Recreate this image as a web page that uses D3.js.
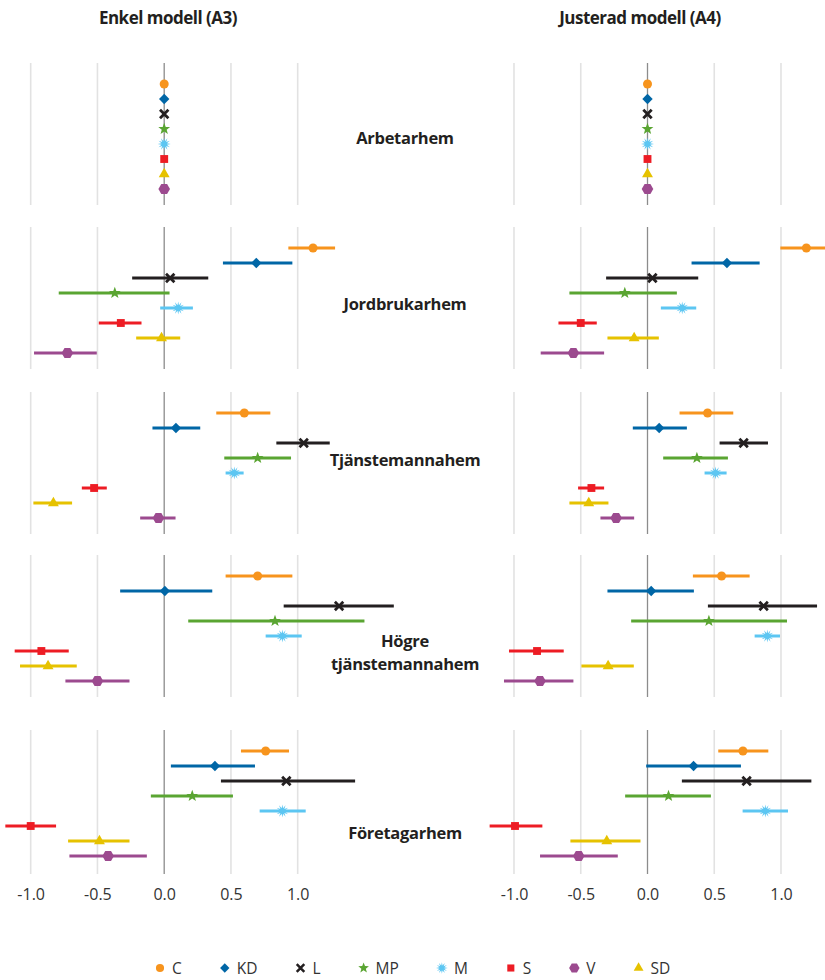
<!DOCTYPE html>
<html><head><meta charset="utf-8">
<script src="https://cdn.jsdelivr.net/npm/d3@7"></script>
<style>
html,body{margin:0;padding:0;background:#fff;}
svg{display:block;font-family:"Open Sans","Noto Sans",sans-serif;}
</style></head>
<body><svg id="chart" width="825" height="980"></svg>
<script>
// ---------- data ----------
const categories = ["Arbetarhem","Jordbrukarhem","Tjänstemannahem","Högre tjänstemannahem","Företagarhem"];
const categoryLines = [["Arbetarhem"],["Jordbrukarhem"],["Tjänstemannahem"],["Högre","tjänstemannahem"],["Företagarhem"]];
const parties = ["C","KD","L","MP","M","S","SD","V"];
const legendOrder = ["C","KD","L","MP","M","S","V","SD"];
const models = ["Enkel modell (A3)","Justerad modell (A4)"];
const tickValues = [-1.0,-0.5,0.0,0.5,1.0];
const partyColors = ["#F7941D","#0066A6","#231F20","#5AA532","#5CC6F2","#ED1C24","#E6C200","#9C4A8F"];

// estimates per category (rows) in party order C,KD,L,MP,M,S,SD,V
const a3Est = [
  [0,0,0,0,0,0,0,0],
  [1.115,0.69,0.045,-0.37,0.105,-0.325,-0.02,-0.725],
  [0.60,0.088,1.045,0.70,0.525,-0.525,-0.83,-0.043],
  [0.70,0.005,1.31,0.83,0.885,-0.92,-0.87,-0.50],
  [0.76,0.38,0.915,0.21,0.885,-1.0,-0.485,-0.42]
];
const a3Lo = [
  [0,0,0,0,0,0,0,0],
  [0.93,0.44,-0.24,-0.79,-0.03,-0.49,-0.21,-0.975],
  [0.39,-0.088,0.84,0.45,0.46,-0.617,-0.98,-0.18],
  [0.46,-0.33,0.895,0.18,0.76,-1.12,-1.08,-0.74],
  [0.575,0.05,0.425,-0.10,0.715,-1.19,-0.72,-0.71]
];
const a3Hi = [
  [0,0,0,0,0,0,0,0],
  [1.28,0.96,0.33,0.04,0.215,-0.17,0.12,-0.505],
  [0.795,0.27,1.24,0.95,0.595,-0.43,-0.69,0.085],
  [0.96,0.36,1.72,1.50,1.03,-0.715,-0.655,-0.26],
  [0.935,0.68,1.43,0.515,1.06,-0.81,-0.26,-0.13]
];
const a4Est = [
  [0,0,0,0,0,0,0,0],
  [1.19,0.595,0.037,-0.17,0.26,-0.50,-0.10,-0.555],
  [0.45,0.0875,0.72,0.37,0.51,-0.42,-0.44,-0.235],
  [0.555,0.0275,0.87,0.46,0.8975,-0.8275,-0.295,-0.805],
  [0.715,0.345,0.7425,0.1575,0.8825,-0.9925,-0.305,-0.515]
];
const a4Lo = [
  [0,0,0,0,0,0,0,0],
  [0.995,0.33,-0.31,-0.585,0.10,-0.667,-0.30,-0.80],
  [0.24,-0.11,0.54,0.1175,0.4275,-0.52,-0.585,-0.3525],
  [0.34,-0.30,0.4525,-0.1225,0.8025,-1.0375,-0.495,-1.075],
  [0.53,-0.01,0.2575,-0.1675,0.7125,-1.1825,-0.5775,-0.805]
];
const a4Hi = [
  [0,0,0,0,0,0,0,0],
  [1.39,0.84,0.38,0.22,0.365,-0.38,0.085,-0.325],
  [0.6425,0.295,0.9025,0.6025,0.5925,-0.325,-0.2925,-0.10],
  [0.765,0.3475,1.27,1.045,0.9925,-0.6275,-0.1025,-0.555],
  [0.905,0.70,1.2275,0.475,1.0525,-0.7875,-0.0525,-0.2225]
];

// ---------- layout ----------
const svg = d3.select("#chart");
const panelTop = [84, 248, 413, 576, 751];
const rowSpan = 105;
const labelY = [138, 304, 460, 641, 833];
const xRanges = [[30.7, 297.7],[514, 781]];
const titleX = [168, 640];
const axisY = 876;

const color = d3.scaleOrdinal().domain(parties).range(partyColors);
const xScales = xRanges.map(r => d3.scaleLinear().domain([-1,1]).range(r));
const yScales = panelTop.map(t => d3.scalePoint().domain(parties).range([t, t + rowSpan]));

function polyPath(n, rOuter, rInner, rot) {
  const pts = [];
  const m = rInner == null ? n : n * 2;
  for (let i = 0; i < m; i++) {
    const r = rInner == null ? rOuter : (i % 2 === 0 ? rOuter : rInner);
    const a = rot + i * 2 * Math.PI / m;
    pts.push([r * Math.sin(a), -r * Math.cos(a)]);
  }
  return "M" + pts.map(p => p[0].toFixed(2) + "," + p[1].toFixed(2)).join("L") + "Z";
}
function symbolPath(p, s) {
  s = s || 1;
  switch (p) {
    case "C": return d3.symbol(d3.symbolCircle, 64 * s * s)();
    case "KD": return polyPath(4, 5.2 * s, null, 0);
    case "MP": return polyPath(5, 6.2 * s, 2.6 * s, 0);
    case "M": return polyPath(12, 6.5 * s, 2.8 * s, 0);
    case "S": return d3.symbol(d3.symbolSquare, 62 * s * s)();
    case "SD": return polyPath(3, 6.3 * s, null, 0);
    case "V": return polyPath(6, 5.8 * s, null, Math.PI / 6);
  }
  return null;
}
function drawMarker(g, p, x, y, s) {
  s = s || 1;
  if (p === "L") {
    const r = 4.2 * s;
    g.append("path")
      .attr("d", `M${x - r},${y - r}L${x + r},${y + r}M${x - r},${y + r}L${x + r},${y - r}`)
      .attr("stroke", color(p)).attr("stroke-width", 2.8 * s).attr("fill", "none");
  } else {
    g.append("path").attr("d", symbolPath(p, s))
      .attr("transform", `translate(${x},${y})`)
      .attr("fill", color(p));
  }
}

const modelData = [[a3Est, a3Lo, a3Hi], [a4Est, a4Lo, a4Hi]];

// titles
models.forEach((m, i) => {
  svg.append("text").attr("x", titleX[i]).attr("y", 24)
    .attr("text-anchor", "middle").attr("font-size", 17).attr("font-weight", 700)
    .attr("fill", "#231F20").attr("letter-spacing", -0.5).text(m);
});

// gridlines per panel
models.forEach((m, mi) => {
  const x = xScales[mi];
  const g = svg.append("g");
  categories.forEach((c, ci) => {
    const y = yScales[ci];
    const y0 = y(parties[0]) - 21, y1 = y(parties[parties.length - 1]) + (ci === categories.length - 1 ? 18 : 16);
    tickValues.forEach(t => {
      g.append("line").attr("x1", x(t)).attr("x2", x(t)).attr("y1", y0).attr("y2", y1)
        .attr("stroke", t === 0 ? "#8c8c8c" : "#e2e2e2").attr("stroke-width", t === 0 ? 1.3 : 1.6);
    });
  });
});

// CI lines & markers
models.forEach((m, mi) => {
  const x = xScales[mi];
  const [est, lo, hi] = modelData[mi];
  const g = svg.append("g");
  categories.forEach((c, ci) => {
    const y = yScales[ci];
    parties.forEach((p, pi) => {
      if (hi[ci][pi] !== lo[ci][pi]) {
        g.append("line").attr("x1", x(lo[ci][pi])).attr("x2", x(hi[ci][pi]))
          .attr("y1", y(p)).attr("y2", y(p))
          .attr("stroke", color(p)).attr("stroke-width", 3);
      }
      drawMarker(g, p, x(est[ci][pi]), y(p), 1);
    });
  });
});

// category labels
categoryLines.forEach((lines, ci) => {
  const t = svg.append("text").attr("x", 405).attr("y", labelY[ci])
    .attr("text-anchor", "middle").attr("font-size", 16.5).attr("font-weight", 700)
    .attr("fill", "#231F20").attr("letter-spacing", -0.3);
  lines.forEach((l, li) => {
    t.append("tspan").attr("x", 405).attr("dy", li === 0 ? 5.5 : 23).text(l);
  });
});

// axes
xScales.forEach(x => {
  const ax = svg.append("g").attr("transform", `translate(0,${axisY})`)
    .call(d3.axisBottom(x).tickValues(tickValues).tickSize(0).tickPadding(13)
      .tickFormat(d => d.toFixed(1)));
  ax.select(".domain").remove();
  ax.selectAll("text").attr("font-size", 16).attr("fill", "#333")
    .attr("font-family", "'Open Sans','Noto Sans',sans-serif");
});

// legend
const lg = svg.append("g");
let lx = 160;
const ly = 968;
legendOrder.forEach(p => {
  drawMarker(lg, p, lx, ly, 0.9);
  const t = lg.append("text").attr("x", lx + 12).attr("y", ly + 5.5)
    .attr("font-size", 15.5).attr("fill", "#333").text(p);
  lx += 12 + t.node().getComputedTextLength() + 43;
});
</script></body></html>
